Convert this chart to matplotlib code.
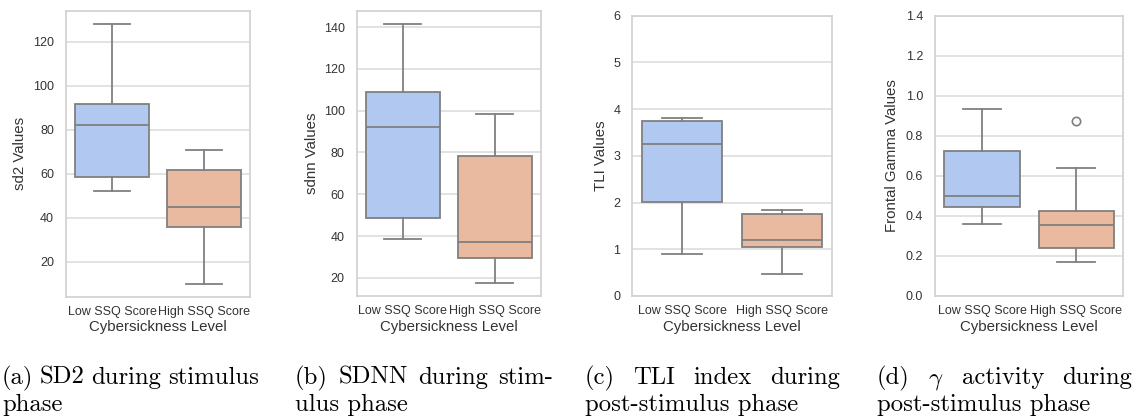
import matplotlib
matplotlib.use("Agg")
import matplotlib.pyplot as plt

groups = ["Low SSQ Score", "High SSQ Score"]

# five-number summaries per group: (whislo, q1, med, q3, whishi)
sd2_stats = [(52.3, 58.5, 82.1, 91.8, 128.2), (10.0, 35.7, 44.6, 61.7, 70.8)]
sdnn_stats = [(38.5, 48.7, 92.3, 108.9, 141.6), (17.5, 29.5, 37.1, 78.2, 98.3)]
tli_stats = [(0.89, 2.01, 3.26, 3.75, 3.81), (0.47, 1.04, 1.20, 1.75, 1.85)]
gamma_stats = [(0.358, 0.447, 0.497, 0.723, 0.933), (0.17, 0.241, 0.353, 0.427, 0.64)]
gamma_fliers = [[], [0.873]]

ylabels = ["sd2 Values", "sdnn Values", "TLI Values", "Frontal Gamma Values"]
ylims = [None, None, (0, 6), (0, 1.4)]
yticks = [range(20, 121, 20), range(20, 141, 20), range(0, 7),
          [0.0, 0.2, 0.4, 0.6, 0.8, 1.0, 1.2, 1.4]]

captions = [
    ("(a) SD2 during stimulus", "phase"),
    ("(b) SDNN during stim-", "ulus phase"),
    ("(c) TLI index during", "post-stimulus phase"),
    (r"(d) $\gamma$ activity during", "post-stimulus phase"),
]

box_colors = ["#b1c8f1", "#e9b9a0"]
line_color = "#808080"
text_color = "#333333"

plt.rcParams["font.family"] = ["Liberation Sans", "DejaVu Sans"]
plt.rcParams["mathtext.fontset"] = "cm"

W, H = 1134, 418
fig = plt.figure(figsize=(W / 100, H / 100), dpi=100)

# axes boxes in pixels: left, top, right, bottom
ax_px = [(66, 10.7, 250, 296.5), (356.7, 10.7, 541, 296),
         (632.3, 15.7, 831.7, 296), (935, 15.7, 1123.3, 296)]
# centre of each rotated y label, in pixels
ylab_px = [18.5, 310.5, 599.5, 891]
# caption columns: left edge and justified width in pixels
cap_px = [(2, 257), (295, 258), (585, 255), (877, 255)]
cap_base = [384, 410.5]


def make_stats(summary, fliers=None):
    out = []
    for i, (lo, q1, med, q3, hi) in enumerate(summary):
        out.append(dict(whislo=lo, q1=q1, med=med, q3=q3, whishi=hi,
                        fliers=(fliers[i] if fliers else [])))
    return out


all_stats = [make_stats(sd2_stats), make_stats(sdnn_stats),
             make_stats(tli_stats), make_stats(gamma_stats, gamma_fliers)]

for k, stats in enumerate(all_stats):
    l, t, r, b = ax_px[k]
    ax = fig.add_axes([l / W, 1 - b / H, (r - l) / W, (b - t) / H])
    bp = ax.bxp(stats, positions=[0, 1], widths=0.8, capwidths=0.4,
                patch_artist=True, showfliers=True,
                boxprops=dict(edgecolor=line_color, linewidth=1.3),
                medianprops=dict(color=line_color, linewidth=1.3),
                whiskerprops=dict(color=line_color, linewidth=1.3),
                capprops=dict(color=line_color, linewidth=1.3),
                flierprops=dict(marker="o", markerfacecolor="none",
                                markeredgecolor=line_color, markersize=6,
                                markeredgewidth=1.2))
    for patch, c in zip(bp["boxes"], box_colors):
        patch.set_facecolor(c)
    ax.set_xlim(-0.5, 1.5)
    if ylims[k] is not None:
        ax.set_ylim(*ylims[k])
    ax.set_yticks(list(yticks[k]))
    if k == 3:
        ax.set_yticklabels([f"{v:.1f}" for v in yticks[k]])
    ax.set_xticks([0, 1])
    ax.set_xticklabels(groups)
    ax.set_axisbelow(True)
    ax.grid(axis="y", color="#dadada", linewidth=1.1)
    for s in ax.spines.values():
        s.set_color("#d0d0d0")
        s.set_linewidth(1.2)
    ax.tick_params(length=0, labelsize=9, colors=text_color)
    ax.tick_params(axis="x", pad=6.8)
    ax.tick_params(axis="y", pad=8.6)
    ax.set_xlabel("Cybersickness Level", fontsize=10.8, color=text_color, labelpad=1.5)
    ax.set_ylabel(ylabels[k], fontsize=10.8, color=text_color)
    # ylabel anchor sits on the right edge of the rotated text
    ax.yaxis.set_label_coords((ylab_px[k] + 8.4 - l) / (r - l), 0.5)

# captions set in a Computer Modern face, first line justified
renderer = fig.canvas.get_renderer()
cap_font = dict(family="cmr10", size=17.8, color="black")
for k, (line1, line2) in enumerate(captions):
    x0, width = cap_px[k]
    words = line1.split(" ")
    pieces = [fig.text(0, 0, w, ha="left", va="baseline", **cap_font) for w in words]
    widths = [p.get_window_extent(renderer).width for p in pieces]
    gap = (width - sum(widths)) / (len(words) - 1)
    x = x0
    for p, w in zip(pieces, widths):
        p.set_position((x / W, 1 - cap_base[0] / H))
        x += w + gap
    fig.text(x0 / W, 1 - cap_base[1] / H, line2, ha="left", va="baseline", **cap_font)

fig.savefig("out.png", dpi=100)
